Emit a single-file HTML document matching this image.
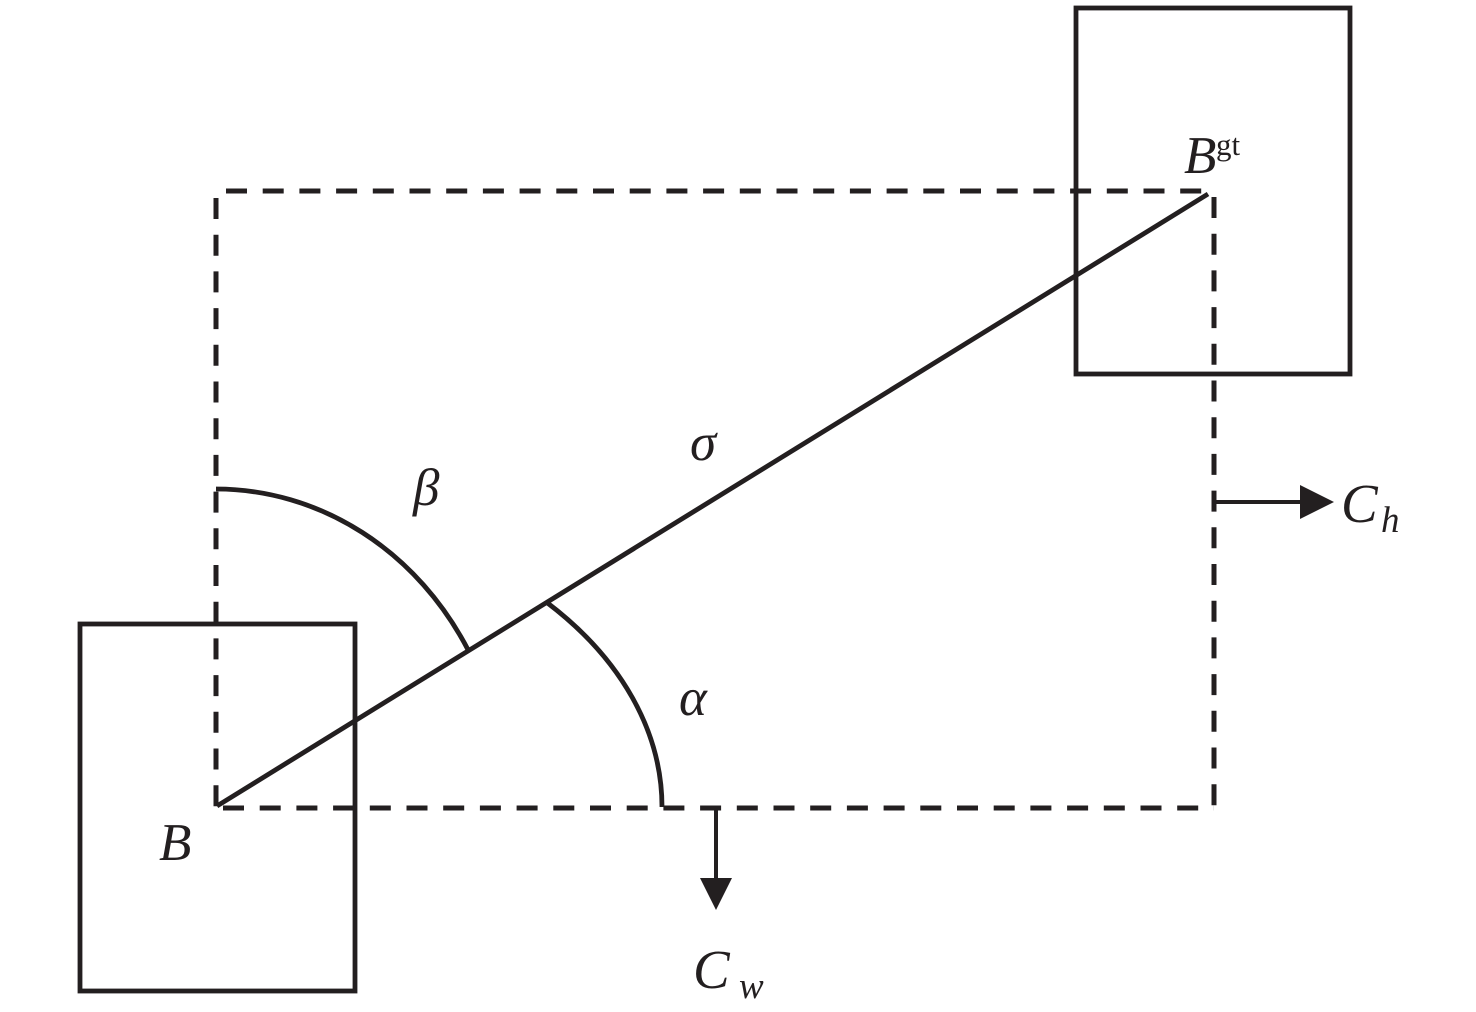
<!DOCTYPE html>
<html>
<head>
<meta charset="utf-8">
<style>
  html, body { margin: 0; padding: 0; background: #ffffff; }
  svg { display: block; }
  text { font-family: "Liberation Serif", "DejaVu Serif", serif; fill: #231f20; }
</style>
</head>
<body>
<svg width="1476" height="1012" viewBox="0 0 1476 1012" xmlns="http://www.w3.org/2000/svg">
  <rect x="0" y="0" width="1476" height="1012" fill="#ffffff"/>
  <g stroke="#231f20" fill="none">
    <!-- solid boxes -->
    <rect x="1076" y="8" width="274" height="366" stroke-width="4.8"/>
    <rect x="80" y="624" width="275" height="367" stroke-width="4.8"/>

    <!-- dashed rectangle -->
    <g stroke-width="5" stroke-dasharray="21 15.7">
      <line x1="226" y1="191" x2="1214" y2="191"/>
      <line x1="216" y1="198" x2="216" y2="808"/>
      <line x1="223" y1="808" x2="1214" y2="808"/>
      <line x1="1214" y1="197" x2="1214" y2="808"/>
    </g>

    <!-- diagonal -->
    <line x1="217" y1="806" x2="1208" y2="194" stroke-width="4.8"/>

    <!-- arcs -->
    <path d="M 216 489 A 290 318 0 0 1 468.6 650.9" stroke-width="4.8"/>
    <path d="M 546.8 602.4 A 446 305 0 0 1 662 807" stroke-width="4.8"/>

    <!-- arrows -->
    <line x1="1214" y1="502" x2="1304" y2="502" stroke-width="4"/>
    <line x1="716" y1="808" x2="716" y2="882" stroke-width="4"/>
  </g>
  <polygon points="1300,485 1334,502 1300,519" fill="#231f20"/>
  <polygon points="700,878 732,878 716,910" fill="#231f20"/>

  <!-- labels -->
  <text x="159" y="860" font-size="53" font-style="italic">B</text>
  <text x="1184" y="173" font-size="53" font-style="italic">B</text>
  <text x="1216" y="155" font-size="31">gt</text>
  <text x="690" y="460" font-size="53" font-style="italic">σ</text>
  <text x="413" y="505" font-size="53" font-style="italic">β</text>
  <text x="679" y="715" font-size="53" font-style="italic">α</text>
  <text x="1341" y="522" font-size="55" font-style="italic">C</text>
  <text x="1381" y="532" font-size="37" font-style="italic">h</text>
  <text x="693" y="988" font-size="55" font-style="italic">C</text>
  <text x="739" y="998" font-size="37" font-style="italic">w</text>
</svg>
</body>
</html>
